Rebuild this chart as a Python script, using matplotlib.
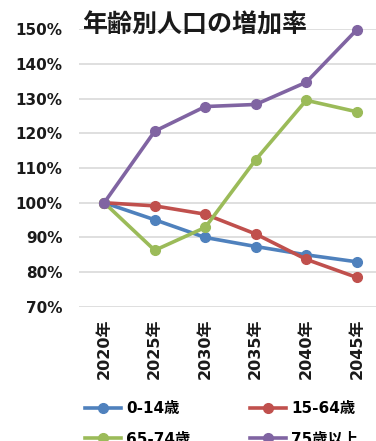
import matplotlib
matplotlib.use("Agg")
import matplotlib.pyplot as plt
from matplotlib.ticker import FuncFormatter

plt.rcParams['font.family'] = ['DejaVu Sans', 'Noto Sans CJK JP']
plt.rcParams['font.weight'] = 'bold'

# データ (2020年 = 100%)
years = ['2020年', '2025年', '2030年', '2035年', '2040年', '2045年']
age_0_14 = [100, 95.1, 90.0, 87.4, 85.0, 83.0]
age_15_64 = [100, 99.1, 96.7, 91.0, 83.7, 78.5]
age_65_74 = [100, 86.3, 92.9, 112.4, 129.5, 126.2]
age_75_plus = [100, 120.6, 127.7, 128.3, 134.7, 149.8]
labels = ['0-14歳', '15-64歳', '65-74歳', '75歳以上']
colors = ['#4F81BD', '#C0504D', '#9BBB59', '#8064A2']

fig = plt.figure(figsize=(3.76, 4.41), dpi=100)
ax = fig.add_axes([0.21, 0.304, 0.806, 0.630])

x = range(len(years))
lines = []
for vals, lab, col in zip([age_0_14, age_15_64, age_65_74, age_75_plus], labels, colors):
    ln, = ax.plot(x, vals, color=col, lw=2.6, marker='o', ms=7, label=lab, clip_on=False)
    lines.append(ln)

ax.set_xlim(-0.5, len(years) - 0.5)
ax.set_ylim(70, 150)
ax.set_yticks(range(70, 151, 10))
ax.yaxis.set_major_formatter(FuncFormatter(lambda v, p: f'{v:.0f}%'))
ax.set_xticks(list(x))
ax.set_xticklabels(years, rotation=90)
ax.tick_params(axis='y', length=0, pad=12, labelsize=11, colors='#1a1a1a')
ax.tick_params(axis='x', length=0, pad=8, labelsize=11.5, colors='#1a1a1a')
ax.grid(axis='y', color='#d9d9d9', lw=1.2)
ax.set_axisbelow(True)
for s in ax.spines.values():
    s.set_visible(False)

ax.text(0.38, 1.015, '年齢別人口の増加率', transform=ax.transAxes, ha='center', va='center',
        fontsize=18, fontweight='bold', family='Noto Sans CJK JP', color='#1a1a1a')

# 行ごとに並べる (0-14, 15-64 / 65-74, 75以上)
order = [0, 2, 1, 3]
fig.legend([lines[i] for i in order], [labels[i] for i in order],
           loc='upper left', bbox_to_anchor=(0.225, 0.09), ncol=2, frameon=False,
           fontsize=11, handlelength=2.4, handletextpad=0.3, columnspacing=3.9,
           labelspacing=1.0, borderpad=0, borderaxespad=0)

fig.savefig('out.png', dpi=100)
